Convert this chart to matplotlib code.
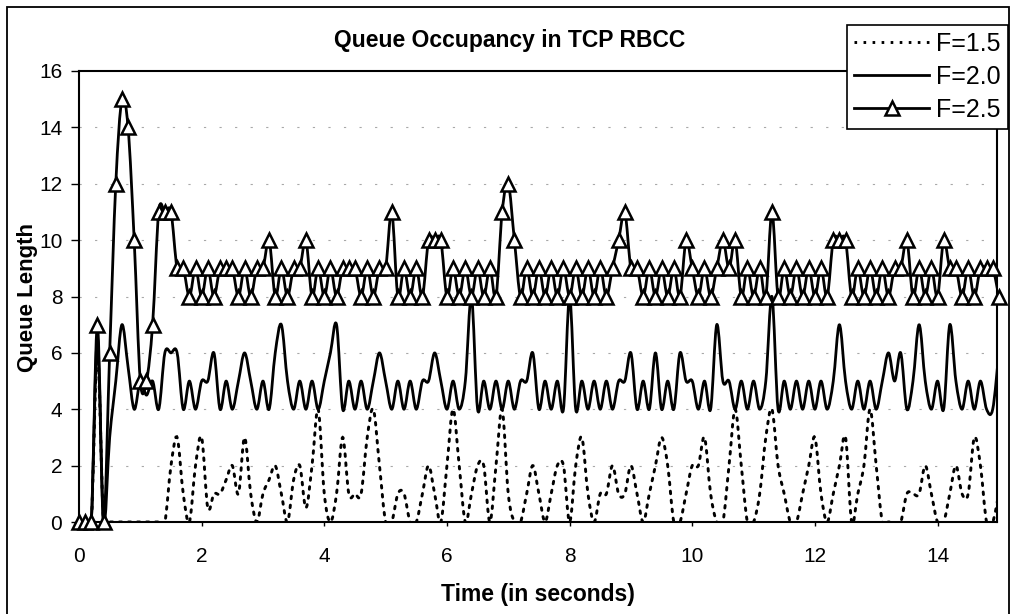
import numpy as np
import matplotlib
matplotlib.use("Agg")
import matplotlib.pyplot as plt
from matplotlib.path import Path
from matplotlib.patches import PathPatch, Rectangle
from matplotlib.lines import Line2D

plt.rcParams['font.family'] = ['Liberation Sans', 'DejaVu Sans']

# ---------------- data ----------------
time_s = [round(0.1 * k, 1) for k in range(151)]  # sample instants, 0.1 s apart

f15 = [0, 0, 0, 6, 0, 0, 0, 0, 0, 0,
       0, 0, 0, 0, 0, 2, 3, 1, 0, 2,
       3, 0.5, 1, 1, 1.5, 2, 1, 3, 1, 0,
       1, 1.5, 2, 1, 0, 1.5, 2, 0.5, 2, 4,
       1, 0, 1, 3, 1, 1, 1, 3, 4, 2,
       0, 0, 1, 1, 0, 0, 1, 2, 1, 0,
       2, 4, 2, 0, 1, 2, 2, 0, 2, 4,
       1, 0, 0, 1, 2, 1, 0, 1, 2, 2,
       0, 2, 3, 1, 0, 1, 1, 2, 1, 1,
       2, 1, 0, 1, 2, 3, 2, 0, 0, 1,
       2, 2, 3, 1, 0, 0, 2, 4, 2, 0,
       0, 1, 3, 4, 2, 1, 0, 0, 1, 2,
       3, 1, 0, 1, 2, 3, 0, 1, 2, 4,
       2, 0, 0, 0, 0, 1, 1, 1, 2, 1,
       0, 0, 1, 2, 1, 1, 3, 2, 0, 0,
       1]

f20 = [0, 0, 0, 6.5, 0, 3, 5, 7, 5.5, 4,
       5, 4.5, 5, 4, 6, 6, 6, 4, 5, 4,
       5, 5, 6, 4, 5, 4, 5, 6, 5, 4,
       5, 4, 6, 7, 5, 4, 5, 4, 5, 4,
       5, 6, 7, 4, 5, 4, 5, 4, 5, 6,
       5, 4, 5, 4, 5, 4, 5, 5, 6, 5,
       4, 5, 4, 5, 8, 4, 5, 4, 5, 4,
       5, 4, 5, 5, 6, 4, 5, 4, 5, 4,
       8, 4, 5, 4, 5, 4, 5, 4, 5, 5,
       6, 4, 5, 4, 6, 4, 5, 4, 6, 5,
       5, 4, 5, 4, 7, 5, 5, 4, 5, 4,
       5, 4, 5, 8, 4, 5, 4, 5, 4, 5,
       4, 5, 4, 5, 7, 5, 4, 5, 4, 5,
       4, 5, 6, 5, 6, 4, 5, 7, 5, 4,
       5, 4, 7, 5, 4, 5, 4, 5, 4, 4,
       6]

f25 = [0, 0, 0, 7, 0, 6, 12, 15, 14, 10,
       5, 5, 7, 11, 11, 11, 9, 9, 8, 9,
       8, 9, 8, 9, 9, 9, 8, 9, 8, 9,
       9, 10, 8, 9, 8, 9, 9, 10, 8, 9,
       8, 9, 8, 9, 9, 9, 8, 9, 8, 9,
       9, 11, 8, 9, 8, 9, 8, 10, 10, 10,
       8, 9, 8, 9, 8, 9, 8, 9, 8, 11,
       12, 10, 8, 9, 8, 9, 8, 9, 8, 9,
       8, 9, 8, 9, 8, 9, 8, 9, 10, 11,
       9, 9, 8, 9, 8, 9, 8, 9, 8, 10,
       9, 8, 9, 8, 9, 10, 9, 10, 8, 9,
       8, 9, 8, 11, 8, 9, 8, 9, 8, 9,
       8, 9, 8, 10, 10, 10, 8, 9, 8, 9,
       8, 9, 8, 9, 9, 10, 8, 9, 8, 9,
       8, 10, 9, 9, 8, 9, 8, 9, 9, 9,
       8]

labels = ['F=1.5', 'F=2.0', 'F=2.5']
x_ticks = [0, 2, 4, 6, 8, 10, 12, 14]
y_ticks = [0, 2, 4, 6, 8, 10, 12, 14, 16]
title = 'Queue Occupancy in TCP RBCC'
x_label = 'Time (in seconds)'
y_label = 'Queue Length'


def smooth_path(x, y):
    """Excel-like smoothed line: Catmull-Rom segments as cubic Beziers."""
    pts = np.column_stack([np.asarray(x, float), np.asarray(y, float)])
    n = len(pts)
    verts = [pts[0]]
    codes = [Path.MOVETO]
    for i in range(n - 1):
        p0 = pts[i - 1] if i > 0 else pts[i]
        p1 = pts[i]
        p2 = pts[i + 1]
        p3 = pts[i + 2] if i + 2 < n else pts[i + 1]
        c1 = p1 + (p2 - p0) / 6.0
        c2 = p2 - (p3 - p1) / 6.0
        verts += [c1, c2, p2]
        codes += [Path.CURVE4] * 3
    return Path(verts, codes)


W, H = 1011, 614
fig = plt.figure(figsize=(W / 100, H / 100), dpi=100)
fig.patch.set_facecolor('white')

L, R, T, B = 79, 997, 71, 522
ax = fig.add_axes([L / W, 1 - B / H, (R - L) / W, (B - T) / H])
ax.set_xlim(0, 14.97)
ax.set_ylim(0, 16)

# grid lines (faint, broken)
for yv in y_ticks[1:-1]:
    ax.axhline(yv, color='#a8a8a8', lw=0.8, dashes=(2, 12), zorder=1)

# series
dotted = (0, (0.9, 2.2))
LW = 2.0
p15 = PathPatch(smooth_path(time_s, f15), fill=False, edgecolor='black',
                lw=2.1, linestyle=dotted, zorder=3, capstyle='round')
ax.add_patch(p15)
p20 = PathPatch(smooth_path(time_s, f20), fill=False, edgecolor='black',
                lw=LW, zorder=4, joinstyle='round')
ax.add_patch(p20)
p25 = PathPatch(smooth_path(time_s, f25), fill=False, edgecolor='black',
                lw=LW, zorder=5, joinstyle='round')
ax.add_patch(p25)
ax.plot(time_s, f25, ls='none', marker='^', ms=9.5, mfc='white',
        mec='black', mew=1.8, zorder=6, clip_on=False)

# axes styling
for s in ax.spines.values():
    s.set_linewidth(1.5)
    s.set_color('black')
ax.set_xticks(x_ticks)
ax.set_yticks(y_ticks)
ax.set_xticklabels([str(v) for v in x_ticks])
ax.set_yticklabels([str(v) for v in y_ticks])
ax.tick_params(axis='x', direction='out', length=3, width=1, pad=15,
               labelsize=15)
ax.tick_params(axis='y', direction='out', length=6, width=1, pad=6,
               labelsize=15)

# texts
fig.text(510 / W, 1 - 40 / H, title, ha='center', va='center',
         fontsize=16.5, fontweight='bold')
fig.text(538 / W, 1 - 594 / H, x_label, ha='center', va='center',
         fontsize=16.5, fontweight='bold')
fig.text(28 / W, 1 - 297 / H, y_label, ha='center', va='center',
         rotation=90, fontsize=16, fontweight='bold')

# legend
handles = [
    Line2D([], [], color='black', lw=2.1, linestyle=dotted),
    Line2D([], [], color='black', lw=LW),
    Line2D([], [], color='black', lw=LW, marker='^', ms=9.5, mfc='white',
           mec='black', mew=1.8),
]
leg = fig.legend(handles, labels, loc='upper left',
                 bbox_to_anchor=(847 / W, 1 - 25 / H),
                 fontsize=18, frameon=True, fancybox=False, shadow=False,
                 handlelength=3.0, handletextpad=0.3, borderpad=0.28,
                 labelspacing=0.36, borderaxespad=0, numpoints=1)
leg.get_frame().set_edgecolor('black')
leg.get_frame().set_linewidth(1.2)
leg.get_frame().set_facecolor('white')
leg.get_frame().set_alpha(1)

# outer chart border
fig.add_artist(Rectangle((7 / W, -0.01), (1009 - 7) / W, (1 - 7 / H) + 0.01,
                         transform=fig.transFigure, fill=False,
                         edgecolor='black', lw=1.3))

fig.savefig('out.png', dpi=100, facecolor='white')
